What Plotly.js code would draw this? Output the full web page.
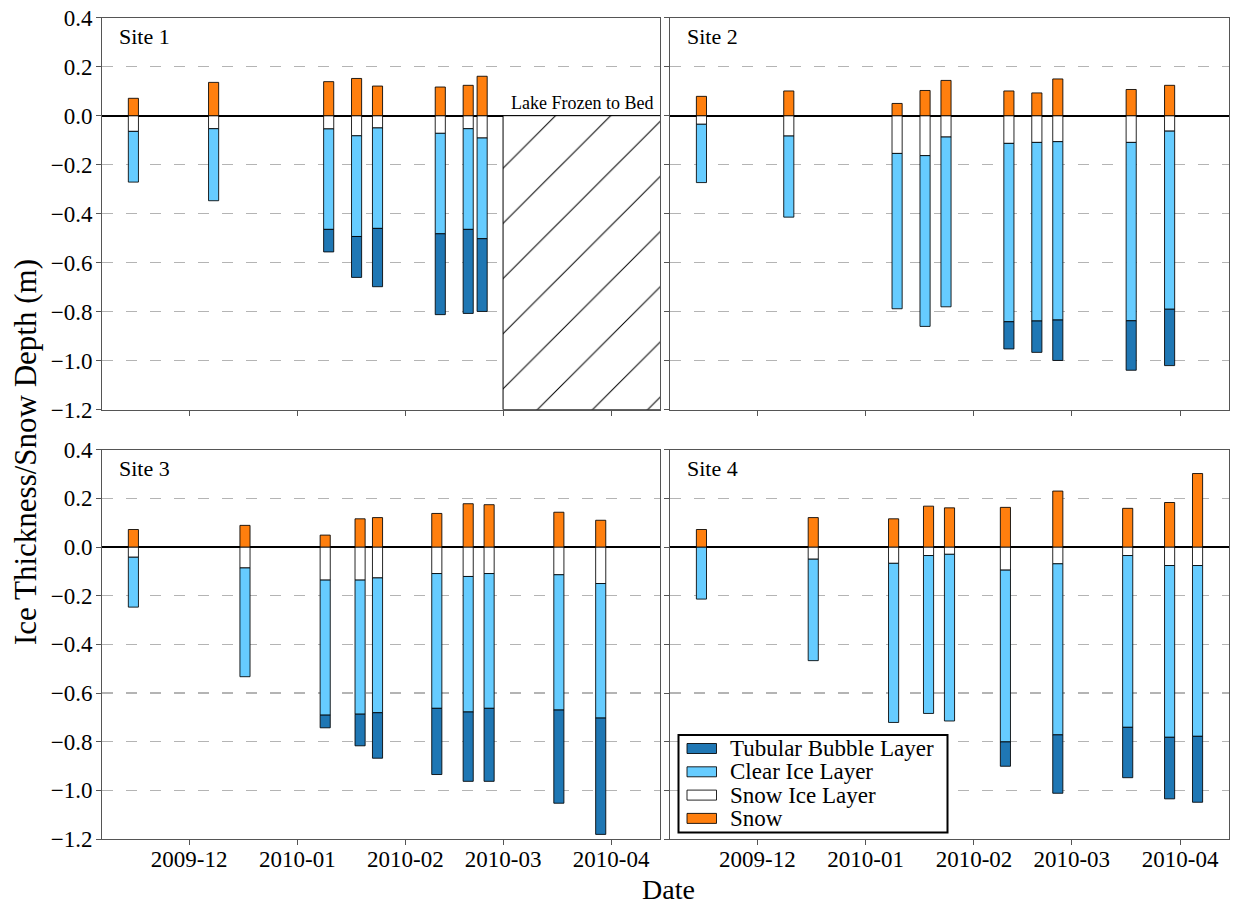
<!DOCTYPE html>
<html><head><meta charset="utf-8">
<script src="https://cdn.plot.ly/plotly-3.0.1.min.js"></script>
<style>html,body{margin:0;padding:0;background:#fff}#chart{width:1233px;height:907px}</style>
</head><body><div id="chart"></div>
<script>
// ---------------- data ----------------
const site1Dates = ['2009-11-15','2009-12-08','2010-01-10','2010-01-18','2010-01-24','2010-02-11','2010-02-19','2010-02-23'];
const site1Snow = [0.071, 0.136, 0.139, 0.152, 0.121, 0.117, 0.124, 0.161];
const site1SnowIceBottom = [-0.064, -0.053, -0.054, -0.082, -0.050, -0.072, -0.053, -0.091];
const site1ClearBottom = [-0.271, -0.347, -0.464, -0.493, -0.460, -0.482, -0.464, -0.502];
const site1TubularBottom = [null, null, -0.556, -0.660, -0.698, -0.812, -0.807, -0.799];

const site2Dates = ['2009-11-15','2009-12-10','2010-01-10','2010-01-18','2010-01-24','2010-02-11','2010-02-19','2010-02-25','2010-03-18','2010-03-29'];
const site2Snow = [0.079, 0.101, 0.050, 0.103, 0.144, 0.101, 0.093, 0.150, 0.107, 0.124];
const site2SnowIceBottom = [-0.035, -0.083, -0.154, -0.163, -0.087, -0.113, -0.109, -0.106, -0.109, -0.063];
const site2ClearBottom = [-0.273, -0.414, -0.788, -0.860, -0.780, -0.841, -0.838, -0.834, -0.837, -0.790];
const site2TubularBottom = [null, null, null, null, null, -0.952, -0.966, -0.999, -1.039, -1.020];

const site3Dates = ['2009-11-15','2009-12-17','2010-01-09','2010-01-19','2010-01-24','2010-02-10','2010-02-19','2010-02-25','2010-03-17','2010-03-29'];
const site3Snow = [0.072, 0.089, 0.049, 0.116, 0.121, 0.138, 0.178, 0.174, 0.143, 0.110];
const site3SnowIceBottom = [-0.042, -0.086, -0.136, -0.136, -0.127, -0.109, -0.121, -0.109, -0.114, -0.150];
const site3ClearBottom = [-0.247, -0.533, -0.691, -0.687, -0.681, -0.663, -0.678, -0.663, -0.670, -0.703];
const site3TubularBottom = [null, null, -0.743, -0.817, -0.868, -0.935, -0.963, -0.963, -1.053, -1.181];

const site4Dates = ['2009-11-15','2009-12-17','2010-01-09','2010-01-19','2010-01-25','2010-02-10','2010-02-25','2010-03-17','2010-03-29','2010-04-06'];
const site4Snow = [0.072, 0.121, 0.116, 0.168, 0.161, 0.163, 0.230, 0.159, 0.183, 0.302];
const site4SnowIceBottom = [0.000, -0.050, -0.067, -0.035, -0.030, -0.095, -0.069, -0.035, -0.076, -0.076];
const site4ClearBottom = [-0.214, -0.467, -0.721, -0.684, -0.715, -0.801, -0.772, -0.741, -0.782, -0.778];
const site4TubularBottom = [null, null, null, null, null, -0.901, -1.012, -0.948, -1.035, -1.049];

const siteNames = ['Site 1', 'Site 2', 'Site 3', 'Site 4'];
const layerNames = ['Tubular Bubble Layer', 'Clear Ice Layer', 'Snow Ice Layer', 'Snow'];
const frozenLabel = 'Lake Frozen to Bed';
const frozenStart = '2010-03-01';
const frozenEnd = '2010-04-30';
const frozenDepth = -1.2;
const xRange = ['2009-11-06', '2010-04-15'];
const yRange = [-1.2, 0.4];
const yTitle = 'Ice Thickness/Snow Depth (m)';
const xTitle = 'Date';

// ---------------- styling ----------------
const FONT = 'Liberation Serif, Times New Roman, serif';
const COL = {tub: '#1f77b4', clear: '#66ccff', si: '#ffffff', snow: '#ff7f0e'};
const DAY = 86400000;
const BAR_W = 2.9 * DAY;
const FRAME = '#555555';
const OUT = {color: 'rgba(0,0,0,0.85)', width: 1};

const sites = [
  {dates: site1Dates, snow: site1Snow, si: site1SnowIceBottom, clear: site1ClearBottom, tub: site1TubularBottom},
  {dates: site2Dates, snow: site2Snow, si: site2SnowIceBottom, clear: site2ClearBottom, tub: site2TubularBottom},
  {dates: site3Dates, snow: site3Snow, si: site3SnowIceBottom, clear: site3ClearBottom, tub: site3TubularBottom},
  {dates: site4Dates, snow: site4Snow, si: site4SnowIceBottom, clear: site4ClearBottom, tub: site4TubularBottom}
];

const traces = [];
sites.forEach((s, i) => {
  const xa = i === 0 ? 'x' : 'x' + (i + 1);
  const ya = i === 0 ? 'y' : 'y' + (i + 1);
  const base = {type: 'bar', xaxis: xa, yaxis: ya, x: s.dates, width: BAR_W,
                showlegend: false, hoverinfo: 'skip'};
  traces.push(Object.assign({}, base, {name: layerNames[2], y: s.si, base: s.si.map(() => 0),
    marker: {color: COL.si, line: OUT}}));
  traces.push(Object.assign({}, base, {name: layerNames[1], y: s.clear.map((c, k) => c - s.si[k]), base: s.si,
    marker: {color: COL.clear, line: OUT}}));
  traces.push(Object.assign({}, base, {name: layerNames[0],
    y: s.tub.map((t, k) => t === null ? null : t - s.clear[k]), base: s.clear,
    marker: {color: COL.tub, line: OUT}}));
  traces.push(Object.assign({}, base, {name: layerNames[3], y: s.snow, base: s.snow.map(() => 0),
    marker: {color: COL.snow, line: OUT}}));
});

// hatched "frozen to bed" region for site 1
const fs = Date.parse(frozenStart + 'T00:00:00Z'), fe = Date.parse(frozenEnd + 'T00:00:00Z');
const toStr = ms => new Date(ms).toISOString().slice(0, 19).replace('T', ' ');
traces.push({type: 'bar', xaxis: 'x', yaxis: 'y', x: [toStr((fs + fe) / 2)], width: fe - fs,
  base: [0], y: [frozenDepth], showlegend: false, hoverinfo: 'skip',
  marker: {color: '#ffffff', line: {color: '#000', width: 1},
           pattern: {shape: '/', size: 39, solidity: 0.026, fgcolor: '#000', bgcolor: '#ffffff', fillmode: 'replace'}}});

// ---------------- layout ----------------
const W = 1233, H = 907;
const px = v => v / W, py = v => 1 - v / H;
const colX = [[px(102), px(660)], [px(670), px(1229)]];
const rowY = [[py(409.7), py(17.7)], [py(839), py(449.7)]];

function xaxis(col, row, anchor) {
  return {domain: colX[col], anchor: anchor, type: 'date', range: xRange,
    tick0: '2009-12-01', dtick: 'M1', tickformat: '%Y-%m',
    showticklabels: row === 1, ticks: 'outside', ticklen: 5, tickwidth: 1, tickcolor: FRAME,
    ticklabelstandoff: -6,
    tickfont: {family: FONT, size: 23, color: '#000'},
    showgrid: false, zeroline: false, showline: true, mirror: true, linecolor: FRAME, linewidth: 1};
}
function yaxis(col, row, anchor) {
  return {domain: rowY[row], anchor: anchor, range: yRange, dtick: 0.2, tick0: 0, tickformat: '.1f',
    showticklabels: col === 0, ticks: 'outside', ticklen: 5, tickwidth: 1, tickcolor: FRAME,
    ticklabelstandoff: -1,
    tickfont: {family: FONT, size: 23, color: '#000'},
    showgrid: true, gridcolor: '#b4b4b4', gridwidth: 1.2, griddash: '11px,13px',
    zeroline: true, zerolinecolor: '#000', zerolinewidth: 2,
    showline: true, mirror: true, linecolor: FRAME, linewidth: 1};
}

const annotations = [];
const domRefs = [['x domain', 'y domain'], ['x2 domain', 'y2 domain'], ['x3 domain', 'y3 domain'], ['x4 domain', 'y4 domain']];
siteNames.forEach((n, i) => {
  annotations.push({text: n, xref: domRefs[i][0], yref: domRefs[i][1], x: 0.027, y: 0.951,
    xanchor: 'left', yanchor: 'middle', showarrow: false, font: {family: FONT, size: 22, color: '#000'}});
});
annotations.push({text: frozenLabel, xref: 'x', yref: 'y',
  x: toStr((fs + Date.parse(xRange[1] + 'T00:00:00Z')) / 2), y: 0, xanchor: 'center', yanchor: 'bottom', yshift: 1,
  showarrow: false, font: {family: FONT, size: 18, color: '#000'}});
annotations.push({text: yTitle, xref: 'paper', yref: 'paper', x: px(25), y: py(452), textangle: -90,
  xanchor: 'center', yanchor: 'middle',
  showarrow: false, font: {family: FONT, size: 31, color: '#000'}});
annotations.push({text: xTitle, xref: 'paper', yref: 'paper', x: px(668), y: py(889),
  xanchor: 'center', yanchor: 'middle',
  showarrow: false, font: {family: FONT, size: 28, color: '#000'}});

// legend box (drawn in panel 4 as in the original)
const shapes = [];
shapes.push({type: 'rect', xref: 'paper', yref: 'paper', x0: px(678.5), x1: px(947.5), y0: py(832.5), y1: py(735),
  line: {color: '#000', width: 2}, fillcolor: '#ffffff', layer: 'above'});
const legColors = [COL.tub, COL.clear, COL.si, COL.snow];
layerNames.forEach((n, k) => {
  const cy = 748.5 + k * 23.3;
  shapes.push({type: 'rect', xref: 'paper', yref: 'paper', x0: px(687), x1: px(716.5), y0: py(cy + 5), y1: py(cy - 5),
    line: {color: 'rgba(0,0,0,0.85)', width: 1}, fillcolor: legColors[k], layer: 'above'});
  annotations.push({text: n, xref: 'paper', yref: 'paper', x: px(729), y: py(cy), xanchor: 'left', yanchor: 'middle',
    borderpad: 0, showarrow: false, font: {family: FONT, size: 23, color: '#000'}});
});

const layout = {
  width: W, height: H, margin: {l: 0, r: 0, t: 0, b: 0},
  paper_bgcolor: '#ffffff', plot_bgcolor: '#ffffff',
  font: {family: FONT, color: '#000'},
  barmode: 'overlay', showlegend: false,
  xaxis: xaxis(0, 0, 'y'), yaxis: yaxis(0, 0, 'x'),
  xaxis2: xaxis(1, 0, 'y2'), yaxis2: yaxis(1, 0, 'x2'),
  xaxis3: xaxis(0, 1, 'y3'), yaxis3: yaxis(0, 1, 'x3'),
  xaxis4: xaxis(1, 1, 'y4'), yaxis4: yaxis(1, 1, 'x4'),
  annotations: annotations, shapes: shapes
};

Plotly.newPlot('chart', traces, layout, {staticPlot: true, displayModeBar: false});
</script></body></html>
